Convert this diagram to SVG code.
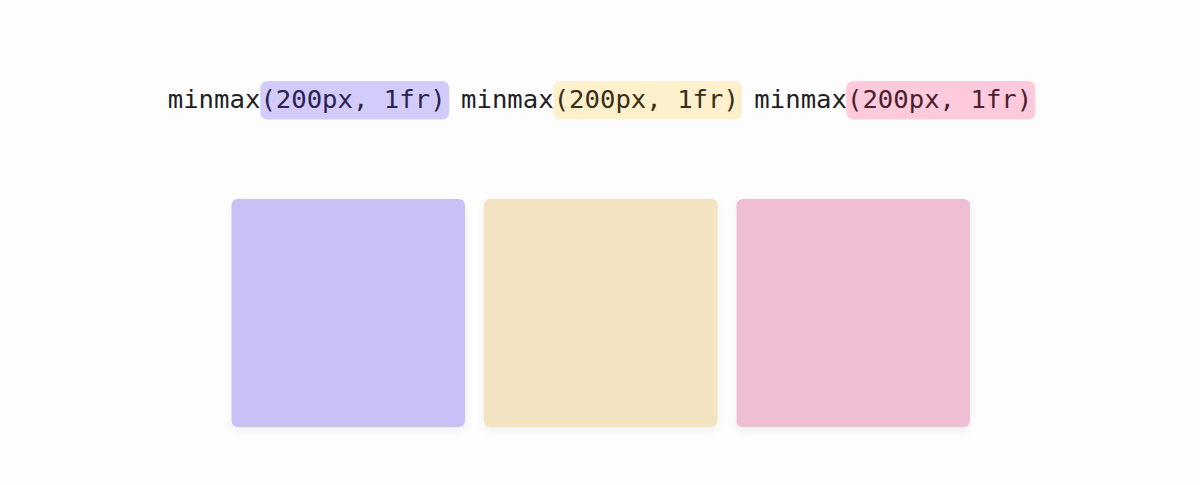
<svg xmlns="http://www.w3.org/2000/svg" width="1200" height="485" viewBox="0 0 1200 485">
<defs>
<filter id="sh" x="-10%" y="-10%" width="120%" height="125%">
<feDropShadow dx="0" dy="4" stdDeviation="4" flood-color="#000" flood-opacity="0.05"/>
</filter>
</defs>
<style>
.code{font-family:"DejaVu Sans Mono","Liberation Mono",monospace;font-size:25.65px;fill:#1f1f24}
.hl{rx:7px}
.box{rx:6px}
</style>
<rect width="1200" height="485" fill="#fdfdfd"/>
<g id="label">
<rect class="hl" x="260.3" y="81" width="189" height="38.5" fill="#d3ccfb"/>
<rect class="hl" x="553.3" y="81" width="188.5" height="38.5" fill="#fdf0cd"/>
<rect class="hl" x="846.3" y="81" width="189" height="38.5" fill="#ffcadc"/>
<text class="code" x="600" y="108" text-anchor="middle" xml:space="preserve">minmax<tspan fill="#2a2250">(200px, 1fr)</tspan> minmax<tspan fill="#3a2e18">(200px, 1fr)</tspan> minmax<tspan fill="#4a1f2e">(200px, 1fr)</tspan></text>
</g>
<g id="box1" filter="url(#sh)"><rect class="box" x="231.5" y="199" width="233.5" height="228" fill="#c9c0f5"/></g>
<g id="box2" filter="url(#sh)"><rect class="box" x="484" y="199" width="233.5" height="228" fill="#f2e3c1"/></g>
<g id="box3" filter="url(#sh)"><rect class="box" x="736.5" y="199" width="233.5" height="228" fill="#f0bed2"/></g>
</svg>
